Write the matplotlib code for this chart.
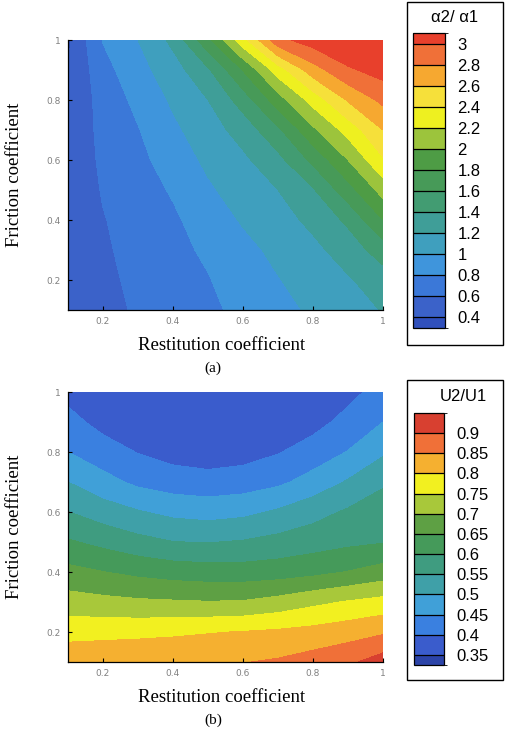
import matplotlib
matplotlib.use("Agg")
import matplotlib.pyplot as plt
from matplotlib.colors import ListedColormap, BoundaryNorm
from matplotlib.patches import Rectangle
import matplotlib.cm as cm

# grid (columns: restitution, rows: friction)
restitution = [0.1, 0.2, 0.3, 0.4, 0.5, 0.6, 0.7, 0.8, 0.9, 1.0]
friction = [0.1, 0.2, 0.3, 0.4, 0.5, 0.6, 0.7, 0.8, 0.9, 1.0]

# (a) alpha2 / alpha1
alpha_ratio = [
    [0.46, 0.55, 0.62, 0.69, 0.76, 0.85, 0.94, 1.03, 1.12, 1.21],
    [0.47, 0.56, 0.64, 0.72, 0.79, 0.89, 0.99, 1.09, 1.18, 1.30],
    [0.47, 0.575, 0.66, 0.75, 0.83, 0.94, 1.05, 1.15, 1.29, 1.50],
    [0.46, 0.59, 0.68, 0.77, 0.89, 1.02, 1.12, 1.25, 1.44, 1.80],
    [0.45, 0.615, 0.715, 0.82, 0.97, 1.09, 1.20, 1.38, 1.72, 2.08],
    [0.44, 0.64, 0.75, 0.89, 1.04, 1.16, 1.34, 1.65, 2.00, 2.38],
    [0.43, 0.66, 0.79, 0.96, 1.11, 1.28, 1.56, 1.96, 2.28, 2.60],
    [0.41, 0.68, 0.85, 1.03, 1.20, 1.49, 1.91, 2.28, 2.62, 2.85],
    [0.39, 0.73, 0.93, 1.11, 1.37, 1.81, 2.30, 2.71, 2.97, 3.08],
    [0.37, 0.81, 1.00, 1.25, 1.75, 2.33, 2.94, 3.10, 3.20, 3.30],
]

# (b) U2 / U1
u_ratio = [
    [0.835, 0.84, 0.845, 0.845, 0.847, 0.848, 0.856, 0.872, 0.89, 0.925],
    [0.782, 0.784, 0.786, 0.791, 0.797, 0.802, 0.808, 0.816, 0.828, 0.843],
    [0.721, 0.714, 0.708, 0.705, 0.702, 0.704, 0.718, 0.738, 0.754, 0.767],
    [0.665, 0.651, 0.638, 0.628, 0.623, 0.622, 0.626, 0.636, 0.652, 0.671],
    [0.606, 0.586, 0.566, 0.551, 0.548, 0.554, 0.566, 0.578, 0.589, 0.597],
    [0.551, 0.525, 0.504, 0.487, 0.480, 0.488, 0.507, 0.532, 0.557, 0.572],
    [0.500, 0.467, 0.439, 0.425, 0.420, 0.425, 0.440, 0.469, 0.505, 0.544],
    [0.450, 0.422, 0.398, 0.381, 0.372, 0.380, 0.397, 0.422, 0.452, 0.492],
    [0.416, 0.384, 0.365, 0.360, 0.355, 0.358, 0.365, 0.383, 0.416, 0.450],
    [0.385, 0.370, 0.360, 0.355, 0.352, 0.355, 0.360, 0.370, 0.385, 0.420],
]

a_levels = [0.4, 0.6, 0.8, 1.0, 1.2, 1.4, 1.6, 1.8, 2.0, 2.2, 2.4, 2.6, 2.8, 3.0]
a_labels = ["0.4", "0.6", "0.8", "1", "1.2", "1.4", "1.6", "1.8", "2", "2.2", "2.4", "2.6", "2.8", "3"]
a_colors = ["#3050bc", "#3b62c9", "#3b78d8", "#3f95dc", "#3f9fbe", "#3f9e98", "#429c72",
            "#479a58", "#4e9c45", "#9cc43c", "#eef020", "#f6e03a", "#f6a830", "#f07038", "#e8402c"]

u_levels = [0.35, 0.4, 0.45, 0.5, 0.55, 0.6, 0.65, 0.7, 0.75, 0.8, 0.85, 0.9]
u_labels = ["0.35", "0.4", "0.45", "0.5", "0.55", "0.6", "0.65", "0.7", "0.75", "0.8", "0.85", "0.9"]
u_colors = ["#2c44a8", "#3a5ccc", "#3a80e0", "#40a0d8", "#3fa0a8", "#3f9c80", "#459a5a",
            "#5ea044", "#a8c83a", "#f2f020", "#f5b030", "#f07038", "#d84030"]

W, H = 506, 737
fig = plt.figure(figsize=(W / 100, H / 100), dpi=100)


def frac(x0, y0, x1, y1):
    # pixel box -> figure fraction rect
    return [x0 / W, 1 - y1 / H, (x1 - x0) / W, (y1 - y0) / H]


serif = "Liberation Serif"
sans = "Liberation Sans"


def panel(top, Z, levels, colors, lo, hi, labels, title, title_x, tag, box, bar):
    ax = fig.add_axes(frac(68, top, 383, top + 270))
    ax.contourf(restitution, friction, Z, levels=[-10] + levels + [10], colors=colors,
                antialiased=False)
    ax.set_xlim(0.1, 1.0)
    ax.set_ylim(0.1, 1.0)
    ax.set_xticks([0.2, 0.4, 0.6, 0.8, 1.0])
    ax.set_xticklabels(["0.2", "0.4", "0.6", "0.8", "1"])
    ax.set_yticks([0.2, 0.4, 0.6, 0.8, 1.0])
    ax.set_yticklabels(["0.2", "0.4", "0.6", "0.8", "1"])
    ax.tick_params(direction="in", length=3, width=0.8, labelsize=6.5,
                   labelcolor="#808080", pad=5)
    for s in ["top", "right"]:
        ax.spines[s].set_visible(False)
    for s in ["left", "bottom"]:
        ax.spines[s].set_linewidth(0.9)
    ax.text(-0.17, 0.5, "Friction coefficient", transform=ax.transAxes, rotation=90,
            ha="center", va="center", fontsize=13.5, family=serif)
    ax.text(0.486, -0.13, "Restitution coefficient", transform=ax.transAxes,
            ha="center", va="center", fontsize=13.5, family=serif)
    ax.text(0.46, -0.215, tag, transform=ax.transAxes,
            ha="center", va="center", fontsize=11, family=serif)

    fig.patches.append(Rectangle((box[0], box[1]), box[2], box[3], transform=fig.transFigure,
                                 fill=False, edgecolor="black", linewidth=1.0))
    cax = fig.add_axes(bar)
    norm = BoundaryNorm([lo] + levels + [hi], len(colors))
    sm = cm.ScalarMappable(norm=norm, cmap=ListedColormap(colors))
    cb = fig.colorbar(sm, cax=cax, spacing="proportional", drawedges=True, ticks=levels)
    cb.ax.set_yticklabels(labels, family=sans)
    cb.ax.tick_params(length=0, labelsize=12, pad=9)
    cb.outline.set_linewidth(0.9)
    cb.dividers.set_linewidth(0.9)
    fig.text(title_x, box[1] + box[3] - 16 / H, title, ha="center", va="center",
             fontsize=12, family=sans)


panel(40, alpha_ratio, a_levels, a_colors, 0.3, 3.1, a_labels,
      "α2/ α1", 455 / W, "(a)", frac(407, 2, 503, 345), frac(413, 33, 445, 328))
panel(392, u_ratio, u_levels, u_colors, 0.325, 0.95, u_labels,
      "U2/U1", 463 / W, "(b)", frac(407, 380, 503, 680), frac(414, 413, 444, 665))

plt.savefig("out.png", dpi=100)
